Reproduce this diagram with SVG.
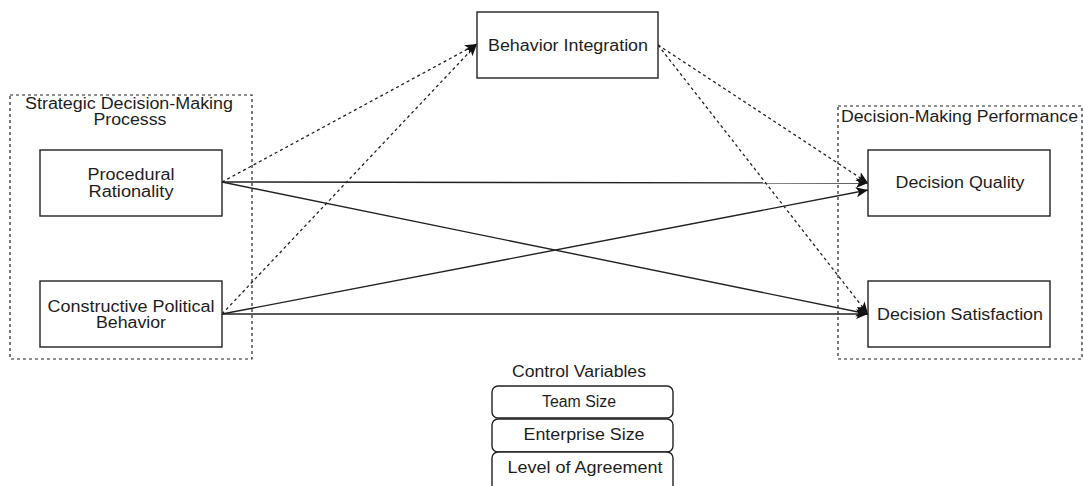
<svg xmlns="http://www.w3.org/2000/svg" width="1083" height="486" viewBox="0 0 1083 486">
<style>
  .box{fill:#fff;stroke:#222;stroke-width:1.4}
  .cont{fill:none;stroke:#222;stroke-width:1.2;stroke-dasharray:3 3}
  .rbox{fill:#fff;stroke:#222;stroke-width:1.4}
  text{font-family:"Liberation Sans",Arial,sans-serif;font-size:16px;fill:#1e1e1e;text-anchor:middle}
  .ln{fill:none;stroke:#222;stroke-width:1.4}
  .dl{fill:none;stroke:#222;stroke-width:1.3;stroke-dasharray:3 3}
</style>
<defs>
  <marker id="arr" markerUnits="userSpaceOnUse" markerWidth="14" markerHeight="12" refX="12" refY="5" orient="auto">
    <path d="M0,0 L12,5 L0,10 L3,5 z" fill="#111"/>
  </marker>
</defs>
<rect width="1083" height="486" fill="#fff"/>

<g id="container-sdmp">
  <rect class="cont" x="10" y="95" width="242" height="264"/>
  <text x="129" y="109" textLength="208" lengthAdjust="spacingAndGlyphs">Strategic Decision-Making</text>
  <text x="130" y="125" textLength="73" lengthAdjust="spacingAndGlyphs">Processs</text>
</g>
<g id="container-dmp">
  <rect class="cont" x="838" y="106" width="244" height="253"/>
  <text x="959.5" y="122" textLength="237" lengthAdjust="spacingAndGlyphs">Decision-Making Performance</text>
</g>

<g id="connectors">
  <line class="ln" x1="222" y1="182" x2="868" y2="183" marker-end="url(#arr)"/>
  <line class="ln" x1="222" y1="182" x2="868" y2="314" marker-end="url(#arr)"/>
  <line class="ln" x1="222" y1="314" x2="868" y2="190" marker-end="url(#arr)"/>
  <line class="ln" x1="222" y1="314" x2="868" y2="314" marker-end="url(#arr)"/>
  <line class="dl" x1="222" y1="182" x2="477" y2="44" marker-end="url(#arr)"/>
  <line class="dl" x1="222" y1="314" x2="477" y2="44" marker-end="url(#arr)"/>
  <line class="dl" x1="658" y1="45" x2="868" y2="183" marker-end="url(#arr)"/>
  <line class="dl" x1="658" y1="45" x2="868" y2="314" marker-end="url(#arr)"/>
</g>

<g id="node-behavior-integration">
  <rect class="box" x="477" y="12" width="181" height="66"/>
  <text x="568" y="51" textLength="160" lengthAdjust="spacingAndGlyphs">Behavior Integration</text>
</g>
<g id="node-procedural-rationality">
  <rect class="box" x="40" y="150" width="182" height="66"/>
  <text x="131" y="180" textLength="87" lengthAdjust="spacingAndGlyphs">Procedural</text>
  <text x="131" y="197" textLength="85" lengthAdjust="spacingAndGlyphs">Rationality</text>
</g>
<g id="node-constructive-political-behavior">
  <rect class="box" x="40" y="281" width="182" height="66"/>
  <text x="131" y="312" textLength="167" lengthAdjust="spacingAndGlyphs">Constructive Political</text>
  <text x="131" y="328" textLength="70" lengthAdjust="spacingAndGlyphs">Behavior</text>
</g>
<g id="node-decision-quality">
  <rect class="box" x="868" y="150" width="182" height="66"/>
  <text x="960" y="188" textLength="129" lengthAdjust="spacingAndGlyphs">Decision Quality</text>
</g>
<g id="node-decision-satisfaction">
  <rect class="box" x="868" y="281" width="182" height="66"/>
  <text x="960" y="320" textLength="166" lengthAdjust="spacingAndGlyphs">Decision Satisfaction</text>
</g>

<g id="node-control-variables">
  <text x="579" y="377" textLength="134" lengthAdjust="spacingAndGlyphs">Control Variables</text>
</g>
<g id="node-team-size">
  <rect class="rbox" x="492" y="386" width="181" height="32" rx="6"/>
  <text x="579" y="407" textLength="74" lengthAdjust="spacingAndGlyphs">Team Size</text>
</g>
<g id="node-enterprise-size">
  <rect class="rbox" x="492" y="419" width="181" height="33" rx="6"/>
  <text x="584" y="440" textLength="121" lengthAdjust="spacingAndGlyphs">Enterprise Size</text>
</g>
<g id="node-level-of-agreement">
  <rect class="rbox" x="492" y="452" width="181" height="40" rx="6"/>
  <text x="585" y="473" textLength="155" lengthAdjust="spacingAndGlyphs">Level of Agreement</text>
</g>
</svg>
